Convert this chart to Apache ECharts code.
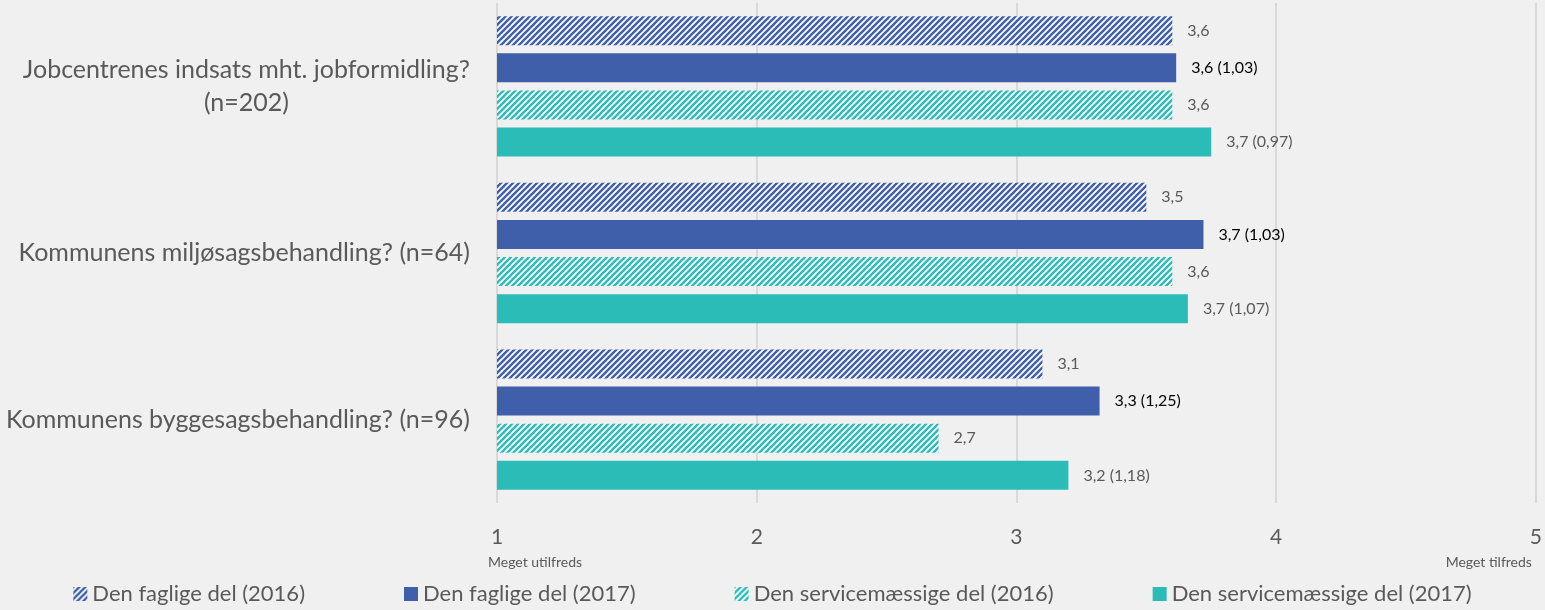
<!DOCTYPE html>
<html>
<head>
<meta charset="utf-8">
<script src="https://cdn.jsdelivr.net/npm/echarts@6/dist/echarts.min.js"></script>
<style>
	html, body { margin: 0; padding: 0; background: #f0f0f0; }
	#chart { width: 1545px; height: 610px; }
</style>
</head>
<body>
<div id="chart"></div>
<script>
	var categories = [
		'Jobcentrenes indsats mht. jobformidling?\n(n=202)',
		'Kommunens miljøsagsbehandling? (n=64)',
		'Kommunens byggesagsbehandling? (n=96)'
	];
	var seriesNames = [
		'Den faglige del (2016)',
		'Den faglige del (2017)',
		'Den servicemæssige del (2016)',
		'Den servicemæssige del (2017)'
	];
	// bar lengths
	var fagligt2016 = [3.6, 3.5, 3.1];
	var fagligt2017 = [3.615, 3.72, 3.32];
	var service2016 = [3.6, 3.6, 2.7];
	var service2017 = [3.75, 3.66, 3.2];
	// printed labels
	var fagligt2016Labels = ['3,6', '3,5', '3,1'];
	var fagligt2017Labels = ['3,6 (1,03)', '3,7 (1,03)', '3,3 (1,25)'];
	var service2016Labels = ['3,6', '3,6', '2,7'];
	var service2017Labels = ['3,7 (0,97)', '3,7 (1,07)', '3,2 (1,18)'];
	var xTicks = [1, 2, 3, 4, 5];
	var xEndLabels = ['Meget utilfreds', 'Meget tilfreds'];

	var blue = '#3f5fab';
	var teal = '#2bbcb8';
	var font = 'Lato';

	function hatch(color) {
		var c = document.createElement('canvas');
		c.width = 6;
		c.height = 6;
		var ctx = c.getContext('2d');
		ctx.fillStyle = '#ffffff';
		ctx.fillRect(0, 0, 6, 6);
		ctx.strokeStyle = color;
		ctx.lineWidth = 2.4;
		for (var k = -6; k <= 6; k += 6) {
			ctx.beginPath();
			ctx.moveTo(k - 1, 7);
			ctx.lineTo(k + 7, -1);
			ctx.stroke();
		}
		return { image: c, repeat: 'repeat' };
	}

	function makeSeries(name, data, labels, color, labelColor) {
		return {
			name: name,
			type: 'bar',
			data: data,
			barWidth: 29,
			barGap: '28%',
			itemStyle: { color: color },
			label: {
				show: true,
				position: 'right',
				distance: 15,
				fontFamily: font,
				fontSize: 16,
				color: labelColor,
				formatter: function (p) { return labels[p.dataIndex]; }
			}
		};
	}

	var chart = echarts.init(document.getElementById('chart'));
	var option = {
		backgroundColor: '#f0f0f0',
		animation: false,
		textStyle: { fontFamily: font },
		grid: { left: 497, right: 8, top: 3, bottom: 107 },
		legend: {
			bottom: 0,
			left: 'center',
			itemWidth: 14,
			itemHeight: 14,
			itemGap: 99,
			icon: 'rect',
			textStyle: { fontFamily: font, fontSize: 22, color: '#595959' },
			data: seriesNames
		},
		xAxis: {
			type: 'value',
			min: 1,
			max: 5,
			interval: 1,
			axisLine: { show: false },
			axisTick: { show: false },
			splitLine: { lineStyle: { color: '#d9d9d9', width: 2 } },
			axisLabel: {
				margin: 24,
				fontFamily: font,
				fontSize: 21,
				color: '#595959',
				formatter: function (v) { return xTicks.indexOf(v) >= 0 ? String(v) : ''; }
			}
		},
		yAxis: {
			type: 'category',
			inverse: true,
			data: categories,
			axisLine: { show: false },
			axisTick: { show: false },
			axisLabel: {
				margin: 27,
				fontFamily: font,
				fontSize: 25,
				color: '#595959',
				lineHeight: 33,
				formatter: function (v) { return '{c|' + v.split('\n').join('}\n{c|') + '}'; },
				rich: { c: { align: 'center', fontFamily: font, fontSize: 25, color: '#595959', lineHeight: 33 } }
			}
		},
		series: [
			makeSeries(seriesNames[0], fagligt2016, fagligt2016Labels, hatch(blue), '#595959'),
			makeSeries(seriesNames[1], fagligt2017, fagligt2017Labels, blue, '#000000'),
			makeSeries(seriesNames[2], service2016, service2016Labels, hatch(teal), '#595959'),
			makeSeries(seriesNames[3], service2017, service2017Labels, teal, '#595959')
		]
	};
	chart.setOption(option);

	// end-of-scale captions under 1 and 5
	var p1 = chart.convertToPixel({ gridIndex: 0 }, [1, 0]);
	var p5 = chart.convertToPixel({ gridIndex: 0 }, [5, 0]);
	chart.setOption({
		graphic: [
			{ type: 'text', left: p1[0] - 9, top: 555, style: { text: xEndLabels[0], fontFamily: font, fontSize: 14, fill: '#595959' } },
			{ type: 'text', right: 1545 - p5[0] + 4, top: 555, style: { text: xEndLabels[1], fontFamily: font, fontSize: 14, fill: '#595959' } }
		]
	});
</script>
</body>
</html>
